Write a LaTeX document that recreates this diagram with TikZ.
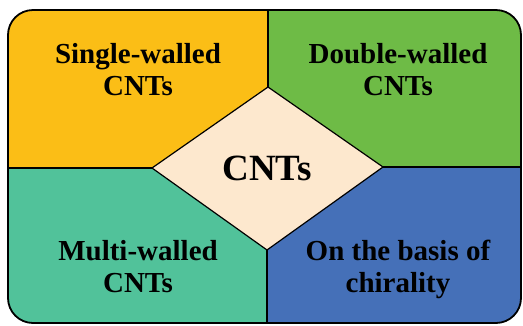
\documentclass[tikz,border=0pt]{standalone}
\usepackage{fontspec}
\setmainfont{Liberation Serif}
\definecolor{swYellow}{HTML}{FBBE16}
\definecolor{dwGreen}{HTML}{6EBB46}
\definecolor{mwTeal}{HTML}{51C29A}
\definecolor{chBlue}{HTML}{4570B8}
\definecolor{hubPeach}{HTML}{FDE8CE}
\begin{document}
\begin{tikzpicture}[x=1pt,y=-1pt,
  label/.style={font=\fontsize{29}{32}\selectfont\bfseries, align=center, text=black, inner sep=0pt},
  divider/.style={draw=black, line width=1.2pt},
  frame/.style={draw=black, line width=1.8pt, rounded corners=25pt}]
\useasboundingbox (0,0) rectangle (523,325);
% corners of the central diamond
\coordinate (dT) at (268,87);
\coordinate (dL) at (152,168);
\coordinate (dR) at (383,167);
\coordinate (dB) at (267,250);
% outer frame corners
\coordinate (fTL) at (8,10);
\coordinate (fBR) at (521,323);
\begin{scope}
  \clip[rounded corners=25pt] (fTL) rectangle (fBR);
  \fill[swYellow] (0,0) rectangle (268,168);
  \fill[dwGreen] (268,0) rectangle (523,167);
  \fill[mwTeal] (0,168) rectangle (267,325);
  \fill[chBlue] (267,167) rectangle (523,325);
  % dividers between the four quarters
  \coordinate (eT) at (268,10);
  \coordinate (eL) at (8,168);
  \coordinate (eR) at (521,167);
  \coordinate (eB) at (267,323);
  \draw[divider] (eT) -- (dT);
  \draw[divider] (eL) -- (dL);
  \draw[divider] (eR) -- (dR);
  \draw[divider] (eB) -- (dB);
\end{scope}
\draw[divider, fill=hubPeach, line join=miter] (dT) -- (dR) -- (dB) -- (dL) -- cycle;
\draw[frame] (fTL) rectangle (fBR);
% labels (base anchor sits on the last line)
\node[label, anchor=base] (sw) at (138,95) {Single-walled\\CNTs};
\node[label, anchor=base] (dw) at (398,95) {Double-walled\\CNTs};
\node[label, anchor=base] (mw) at (138,292) {Multi-walled\\CNTs};
\node[label, anchor=base] (ch) at (398,292) {On the basis of\\chirality};
\node[label, font=\fontsize{37}{40}\selectfont\bfseries, anchor=base] (hub) at (267,180) {CNTs};
\end{tikzpicture}
\end{document}
